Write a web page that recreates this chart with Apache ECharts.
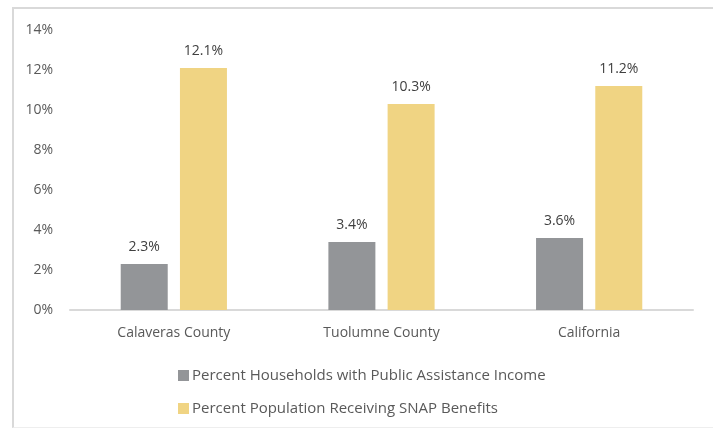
<!DOCTYPE html>
<html><head><meta charset="utf-8">
<script src="https://cdn.jsdelivr.net/npm/echarts@6/dist/echarts.min.js"></script>
<style>
html,body{margin:0;padding:0;background:#fff;overflow:hidden}
#frame{position:absolute;left:12px;top:7px;width:720px;height:421px;border:2px solid #d9d9d9;border-bottom:1px solid #eeeeee;box-sizing:border-box}
#c{position:absolute;left:0;top:0;width:713px;height:430px}
</style></head>
<body>
<div id="frame"></div>
<div id="c"></div>
<script>
const categories = ["Calaveras County", "Tuolumne County", "California"];
const seriesNames = ["Percent Households with Public Assistance Income", "Percent Population Receiving SNAP Benefits"];
const publicAssistance = [2.3, 3.4, 3.6];
const snapBenefits = [12.1, 10.3, 11.2];
const yTicks = [0, 2, 4, 6, 8, 10, 12, 14];

const chart = echarts.init(document.getElementById('c'), null, {renderer: 'canvas'});
const font = '"Open Sans", sans-serif';
const labelStyle = {show: true, position: 'top', distance: 10, color: '#404040', fontSize: 14, fontFamily: font, formatter: p => p.value.toFixed(1) + '%'};
chart.setOption({
  animation: false,
  grid: {left: 70, right: 20, top: 30, bottom: 120},
  legend: {
    orient: 'vertical', left: 173, top: 363, itemGap: 18, itemWidth: 11, itemHeight: 11,
    icon: 'rect',
    textStyle: {color: '#595959', fontSize: 15, fontFamily: font, padding: [0,0,0,-2]},
    data: seriesNames
  },
  xAxis: {
    type: 'category', data: categories,
    axisLine: {lineStyle: {color: '#d9d9d9', width: 2}},
    axisTick: {show: false},
    axisLabel: {color: '#595959', fontSize: 14, fontFamily: font, margin: 16}
  },
  yAxis: {
    type: 'value', min: 0, max: 14, interval: 2,
    axisLine: {show: false}, axisTick: {show: false},
    splitLine: {show: false},
    axisLabel: {color: '#595959', fontSize: 14, fontFamily: font, margin: 17, formatter: v => yTicks.includes(v) ? v + '%' : ''}
  },
  series: [
    {name: seriesNames[0], type: 'bar', data: publicAssistance, barWidth: 47, barGap: '26%', itemStyle: {color: '#939598'}, label: labelStyle},
    {name: seriesNames[1], type: 'bar', data: snapBenefits, barWidth: 47, itemStyle: {color: '#F0D483'}, label: labelStyle}
  ]
});
</script>
</body></html>
